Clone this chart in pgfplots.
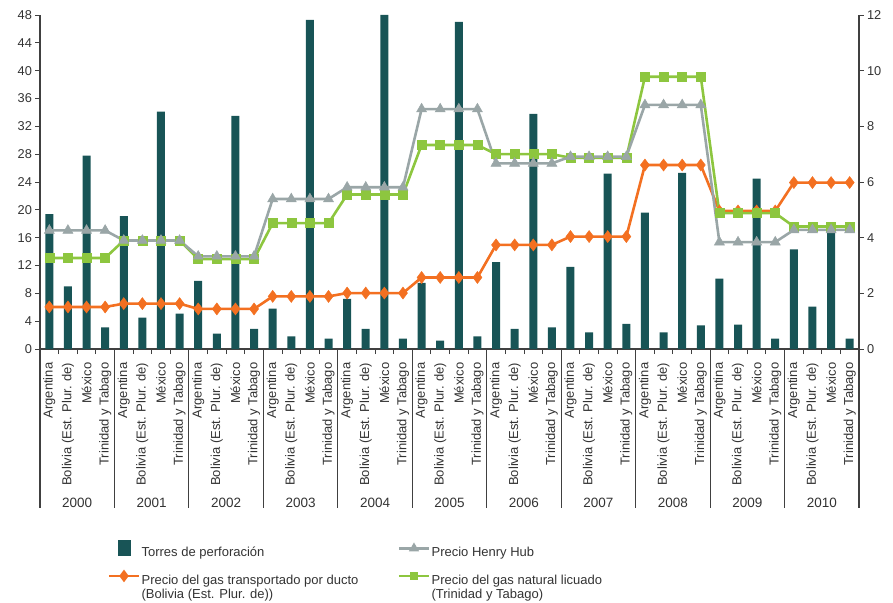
\documentclass[border=0pt]{standalone}
\usepackage{fontspec}
\setmainfont{Liberation Sans}
\usepackage{pgfplots}
\usepackage{pgfplotstable}
\pgfplotsset{compat=1.18}
\definecolor{barc}{HTML}{185456}
\definecolor{orc}{HTML}{F37021}
\definecolor{grc}{HTML}{9AA6A7}
\definecolor{gnc}{HTML}{8DC63F}
\definecolor{txt}{HTML}{333333}
\definecolor{axc}{HTML}{404040}

\pgfplotstableread{
x bar ora gra gre
0 19.4 1.51 4.26 3.27
1 9.0 1.51 4.26 3.27
2 27.8 1.51 4.26 3.27
3 3.1 1.51 4.26 3.27
4 19.1 1.63 3.90 3.90
5 4.5 1.63 3.90 3.90
6 34.1 1.63 3.90 3.90
7 5.1 1.63 3.90 3.90
8 9.8 1.44 3.33 3.23
9 2.2 1.44 3.33 3.23
10 33.5 1.44 3.33 3.23
11 2.9 1.44 3.33 3.23
12 5.8 1.89 5.39 4.52
13 1.8 1.89 5.39 4.52
14 47.3 1.89 5.39 4.52
15 1.5 1.89 5.39 4.52
16 7.2 2.01 5.81 5.55
17 2.9 2.01 5.81 5.55
18 48.0 2.01 5.81 5.55
19 1.5 2.01 5.81 5.55
20 9.5 2.57 8.62 7.33
21 1.2 2.57 8.62 7.33
22 47.0 2.57 8.62 7.33
23 1.8 2.57 8.62 7.33
24 12.5 3.74 6.67 7.00
25 2.9 3.74 6.67 7.00
26 33.8 3.74 6.67 7.00
27 3.1 3.74 6.67 7.00
28 11.8 4.04 6.91 6.87
29 2.4 4.04 6.91 6.87
30 25.2 4.04 6.91 6.87
31 3.6 4.04 6.91 6.87
32 19.6 6.61 8.77 9.78
33 2.4 6.61 8.77 9.78
34 25.3 6.61 8.77 9.78
35 3.4 6.61 8.77 9.78
36 10.1 4.96 3.84 4.88
37 3.5 4.96 3.84 4.88
38 24.5 4.96 3.84 4.88
39 1.5 4.96 3.84 4.88
40 14.3 5.98 4.28 4.40
41 6.1 5.98 4.28 4.40
42 17.6 5.98 4.28 4.40
43 1.5 5.98 4.28 4.40
}\data

\begin{document}
\begin{tikzpicture}
\pgfplotsset{
  common/.style={
    scale only axis, width=819pt, height=334pt,
    xmin=-0.5, xmax=43.5,
    axis line style={axc, line width=1.1pt},
    tick style={axc, line width=0.9pt},
    tick align=outside,
    major tick length=4.5pt,
    ticklabel style={font=\fontsize{12.8}{14}\selectfont, text=txt},
    /pgf/number format/assume math mode=true,
  }
}
\begin{axis}[common, name=ax,
  ymin=0, ymax=48,
  axis x line*=bottom, axis y line*=left,
  ytick={0,4,...,48},
  xtick={0,...,43},
  xticklabels={Argentina,Bolivia (Est. Plur. de),México,Trinidad y Tabago,
    Argentina,Bolivia (Est. Plur. de),México,Trinidad y Tabago,
    Argentina,Bolivia (Est. Plur. de),México,Trinidad y Tabago,
    Argentina,Bolivia (Est. Plur. de),México,Trinidad y Tabago,
    Argentina,Bolivia (Est. Plur. de),México,Trinidad y Tabago,
    Argentina,Bolivia (Est. Plur. de),México,Trinidad y Tabago,
    Argentina,Bolivia (Est. Plur. de),México,Trinidad y Tabago,
    Argentina,Bolivia (Est. Plur. de),México,Trinidad y Tabago,
    Argentina,Bolivia (Est. Plur. de),México,Trinidad y Tabago,
    Argentina,Bolivia (Est. Plur. de),México,Trinidad y Tabago,
    Argentina,Bolivia (Est. Plur. de),México,Trinidad y Tabago},
  x tick label style={rotate=90, anchor=east, font=\fontsize{13}{14}\selectfont, inner sep=1pt, xshift=-8pt},
  major x tick style={draw=none},
  minor xtick={0.5,1.5,...,42.5},
  minor tick length=5pt,
  minor x tick style={axc, line width=0.9pt},
  clip=false,
]
\addplot[ybar, bar width=8pt, fill=barc, draw=none] table[x=x, y=bar]{\data};
\pgfplotsinvokeforeach{0,...,11}{
  \draw[axc, line width=1.1pt] (axis cs:{4*#1-0.5},0) -- ([yshift=-159pt]axis cs:{4*#1-0.5},0);
}
\pgfplotsinvokeforeach{0,...,10}{
  \node[font=\fontsize{13.5}{14}\selectfont, text=txt] at ([yshift=-154pt]axis cs:{4*#1+1.5},0) {\pgfmathparse{int(2000+#1)}\pgfmathresult};
}
\end{axis}
\begin{axis}[common,
  ymin=0, ymax=12,
  axis x line=none, axis y line*=right,
  ytick={0,2,...,12},
  legend columns=2,
  legend cell align=left,
  legend style={at={(0.079,-0.566)}, anchor=north west, draw=none, fill=none,
    font=\fontsize{13}{14.5}\selectfont, text=txt,
    nodes={inner sep=1.5pt},
    /tikz/every even column/.append style={column sep=38pt},
    row sep=12pt},
  legend image code/.code={
    \draw[mark repeat=2, mark phase=2, #1] plot coordinates {(0pt,4pt) (15pt,4pt) (30pt,4pt)};
  },
]
\addlegendimage{legend image code/.code={\fill[barc] (9pt,-3pt) rectangle (21pt,12pt);}}
\addlegendentry{Torres de perforación}
\addlegendimage{grc, line width=2.2pt, mark=triangle*, mark size=3.8pt, mark options={fill=grc, draw=grc}}
\addlegendentry{Precio Henry Hub}
\addlegendimage{orc, line width=2.2pt, mark=diamond*, mark size=4.5pt, mark options={fill=orc, draw=orc}}
\addlegendentry{\begin{tabular}[t]{@{}l@{}}Precio del gas transportado por ducto\\[-0.5pt](Bolivia (Est. Plur. de))\end{tabular}}
\addlegendimage{gnc, line width=2.2pt, mark=square*, mark size=3pt, mark options={fill=gnc, draw=gnc}}
\addlegendentry{\begin{tabular}[t]{@{}l@{}}Precio del gas natural licuado\\[-0.5pt](Trinidad y Tabago)\end{tabular}}

\addplot[forget plot, orc, line width=2.6pt, mark=diamond*, mark size=6pt, mark options={fill=orc, draw=orc, line width=0.5pt}] table[x=x, y=ora]{\data};
\addplot[forget plot, gnc, line width=2.6pt, mark=square*, mark size=4.5pt, mark options={fill=gnc, draw=gnc, line width=0.5pt}] table[x=x, y=gre]{\data};
\addplot[forget plot, grc, line width=2.6pt, mark=triangle*, mark size=5.8pt, mark options={fill=grc, draw=grc, line width=0.5pt}] table[x=x, y=gra]{\data};
\end{axis}
\path ([xshift=-40pt,yshift=-253pt]ax.south west) rectangle ([xshift=34pt,yshift=15pt]ax.north east);
\end{tikzpicture}
\end{document}
